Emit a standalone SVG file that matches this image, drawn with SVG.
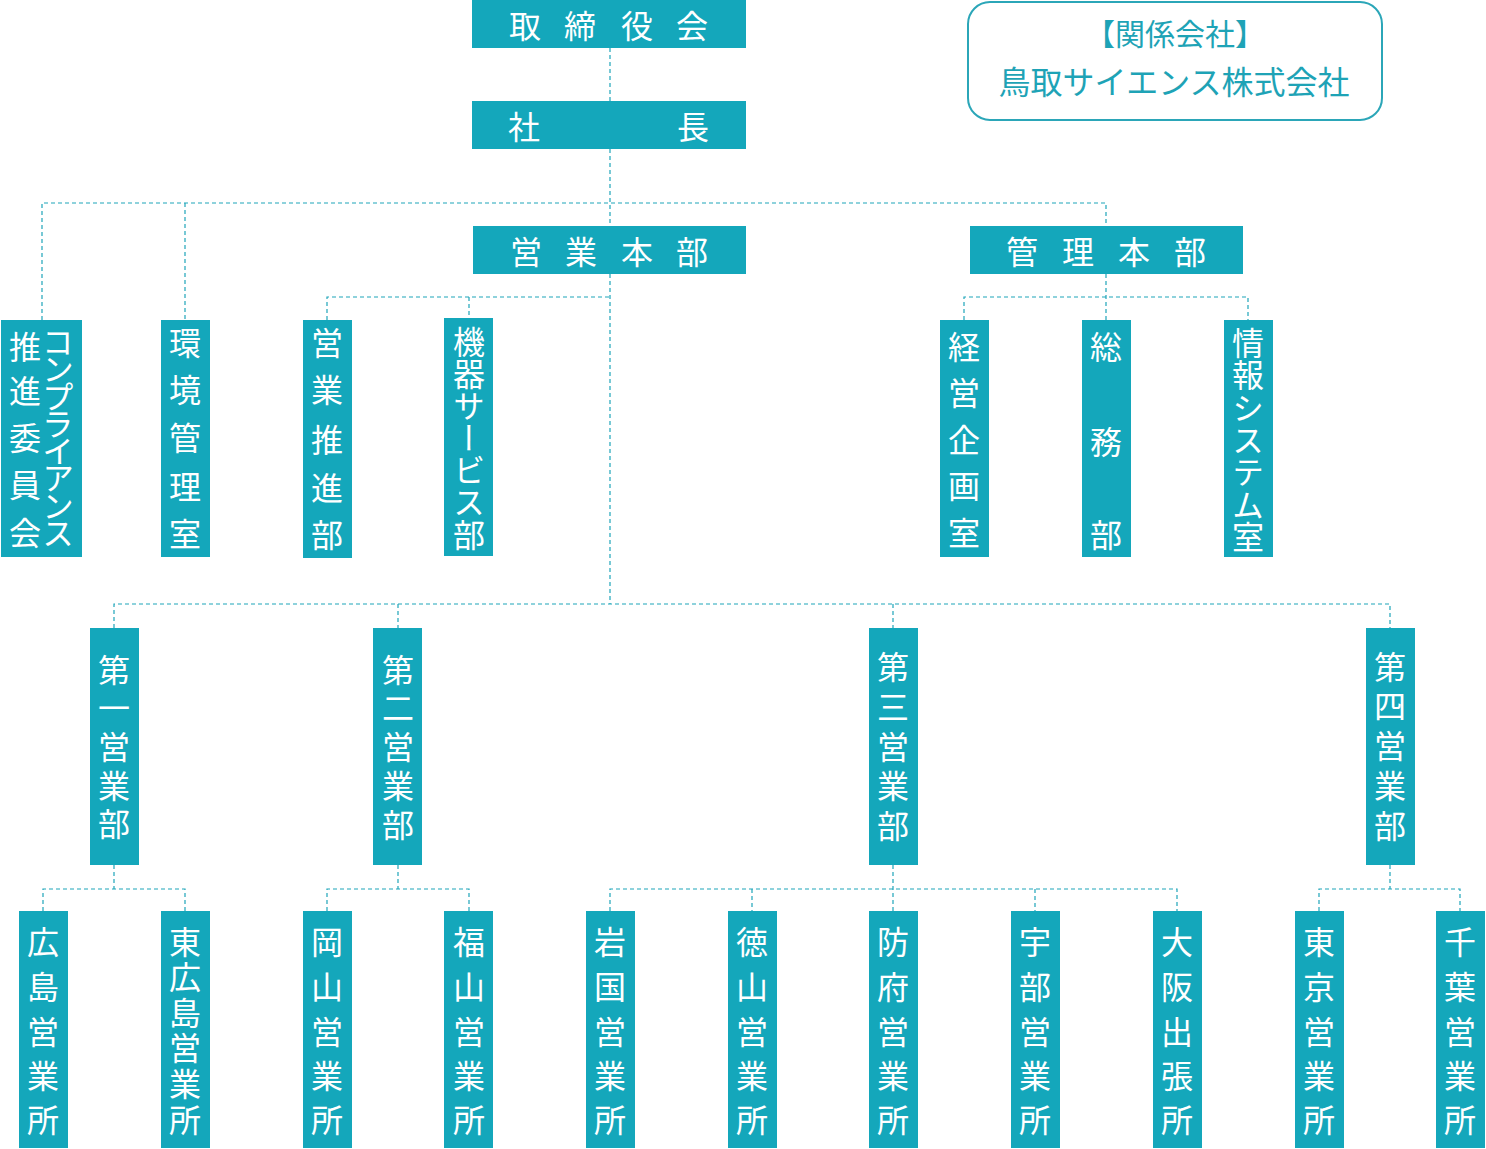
<svg xmlns="http://www.w3.org/2000/svg" width="1486" height="1149" viewBox="0 0 1486 1149">
<style>
.b{fill:#14a7bb}
.h{font-family:"Noto Sans CJK JP","Noto Sans",sans-serif;font-size:32px;fill:#fff;text-anchor:middle;dominant-baseline:central}
.v{font-family:"Noto Sans CJK JP","Noto Sans",sans-serif;font-size:32px;fill:#fff;text-anchor:middle;writing-mode:vertical-rl}
.c{fill:none;stroke:#1fa5b9;stroke-width:1.2;stroke-dasharray:4 3}
.r{font-family:"Noto Sans CJK JP","Noto Sans",sans-serif;fill:#1ea3b6;text-anchor:middle;dominant-baseline:central}
</style>
<rect width="1486" height="1149" fill="#fff"/>
<g id="connectors" class="c">
<path d="M610 48V101M610 149V226M42 320V203H1106V226M185 203V320M610 274V604"/>
<path d="M327 320V297H610M469 297V318M1106 274V320M964 320V297H1248V320"/>
<path d="M114 628V604H1390V628M398 604V628M893 604V628"/>
<path d="M114 865V889M43 911V889H185V911M398 865V889M327 911V889H469V911"/>
<path d="M893 865V911M610 911V889H1177V911M752 889V911M1035 889V911"/>
<path d="M1390 865V889M1319 911V889H1460V911"/>
</g>
<g id="torishimariyakukai"><rect class="b" x="472" y="0" width="274" height="48"/><text class="h" x="525 580 637 692" y="24">取締役会</text></g>
<g id="shacho"><rect class="b" x="472" y="101" width="274" height="48"/><text class="h" x="524 693" y="125">社長</text></g>
<g id="eigyo-honbu"><rect class="b" x="473" y="226" width="273" height="48"/><text class="h" x="526 581 637 692" y="250">営業本部</text></g>
<g id="kanri-honbu"><rect class="b" x="970" y="226" width="273" height="48"/><text class="h" x="1022 1078 1134 1190" y="250">管理本部</text></g>
<g id="kankei-gaisha"><rect x="968" y="2" width="414" height="118" rx="22" fill="none" stroke="#2ba6b8" stroke-width="2"/><text class="r" x="1175" y="32" font-size="30">【関係会社】</text><text class="r" x="1174" y="80" font-size="32">鳥取サイエンス株式会社</text></g>
<g id="compliance"><rect class="b" x="1" y="320" width="81" height="237"/><text class="v" x="58" y="342 369 397 424 451 478 506 533" font-size="30">コンプライアンス</text><text class="v" x="25" y="347 391 438 485 533">推進委員会</text></g>
<g id="kankyo"><rect class="b" x="161" y="320" width="49" height="237"/><text class="v" x="185" y="343 390 438 487 534">環境管理室</text></g>
<g id="eigyo-suishin"><rect class="b" x="303" y="320" width="49" height="238"/><text class="v" x="327" y="343 390 440 488 535">営業推進部</text></g>
<g id="kiki-service"><rect class="b" x="444" y="318" width="49" height="238"/><text class="v" x="469" y="342 374 406 438 470 502 535">機器サービス部</text></g>
<g id="keiei-kikaku"><rect class="b" x="940" y="320" width="49" height="237"/><text class="v" x="964" y="347 393 440 486 533">経営企画室</text></g>
<g id="somu"><rect class="b" x="1082" y="320" width="49" height="237"/><text class="v" x="1106" y="347 442 535">総務部</text></g>
<g id="joho-system"><rect class="b" x="1224" y="320" width="49" height="237"/><text class="v" x="1248" y="343 375 408 440 472 505 537">情報システム室</text></g>
<g id="dai1"><rect class="b" x="90" y="628" width="49" height="237"/><text class="v" x="114" y="670 708 747 786 824">第一営業部</text></g>
<g id="dai2"><rect class="b" x="373" y="628" width="49" height="237"/><text class="v" x="398" y="670 708 747 786 825">第二営業部</text></g>
<g id="dai3"><rect class="b" x="869" y="628" width="49" height="237"/><text class="v" x="893" y="667 707 747 786 826">第三営業部</text></g>
<g id="dai4"><rect class="b" x="1366" y="628" width="49" height="237"/><text class="v" x="1390" y="667 706 746 786 826">第四営業部</text></g>
<g id="hiroshima"><rect class="b" x="19" y="911" width="49" height="237"/><text class="v" x="43" y="942 987 1032 1076 1120">広島営業所</text></g>
<g id="higashihiroshima"><rect class="b" x="161" y="911" width="49" height="237"/><text class="v" x="185" y="942 977 1013 1048 1084 1120">東広島営業所</text></g>
<g id="okayama"><rect class="b" x="303" y="911" width="49" height="237"/><text class="v" x="327" y="942 987 1032 1076 1120">岡山営業所</text></g>
<g id="fukuyama"><rect class="b" x="444" y="911" width="49" height="237"/><text class="v" x="469" y="942 987 1032 1076 1120">福山営業所</text></g>
<g id="iwakuni"><rect class="b" x="586" y="911" width="49" height="237"/><text class="v" x="610" y="942 987 1032 1076 1120">岩国営業所</text></g>
<g id="tokuyama"><rect class="b" x="728" y="911" width="49" height="237"/><text class="v" x="752" y="942 987 1032 1076 1120">徳山営業所</text></g>
<g id="hofu"><rect class="b" x="869" y="911" width="49" height="237"/><text class="v" x="893" y="942 987 1032 1076 1120">防府営業所</text></g>
<g id="ube"><rect class="b" x="1011" y="911" width="49" height="237"/><text class="v" x="1035" y="942 987 1032 1076 1120">宇部営業所</text></g>
<g id="osaka"><rect class="b" x="1153" y="911" width="49" height="237"/><text class="v" x="1177" y="942 987 1032 1076 1120">大阪出張所</text></g>
<g id="tokyo"><rect class="b" x="1295" y="911" width="49" height="237"/><text class="v" x="1319" y="942 987 1032 1076 1120">東京営業所</text></g>
<g id="chiba"><rect class="b" x="1436" y="911" width="49" height="237"/><text class="v" x="1460" y="942 987 1032 1076 1120">千葉営業所</text></g>
</svg>
